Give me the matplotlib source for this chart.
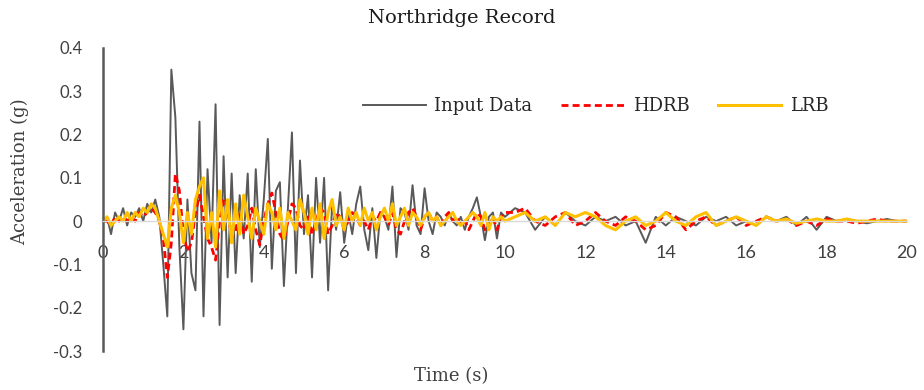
import numpy as np
import matplotlib
matplotlib.use("Agg")
import matplotlib.pyplot as plt

# sampling grid: 0.1 s up to 10 s, 0.25 s afterwards
t = np.concatenate([np.round(np.arange(0, 10.01, 0.1), 2), np.arange(10.25, 20.01, 0.25)])

input_data = [
    0.0, 0.01, -0.03, 0.02, 0.0, 0.03, -0.01, 0.02, 0.01, 0.03,
    0.0, 0.04, 0.02, 0.05, 0.01, -0.10, -0.22, 0.35, 0.24, -0.06,
    -0.25, 0.05, -0.12, -0.16, 0.23, -0.22, 0.12, -0.05, 0.27, -0.24,
    0.15, -0.13, 0.11, -0.12, 0.06, -0.04, 0.11, -0.14, 0.12, -0.06,
    0.05, 0.19, -0.11, 0.07, 0.09, -0.15, 0.03, 0.205, -0.12, 0.14,
    -0.03, 0.06, -0.13, 0.10, -0.05, 0.10, -0.16, 0.04, -0.02, 0.067,
    -0.05, 0.02, -0.03, 0.04, 0.08, -0.02, -0.067, 0.03, -0.085, 0.02,
    0.01, -0.02, 0.08, -0.083, 0.03, 0.02, -0.02, 0.083, -0.01, -0.03,
    0.076, 0.0, -0.03, 0.02, 0.01, -0.01, 0.02, 0.0, -0.01, 0.01,
    -0.02, 0.01, 0.03, 0.055, 0.01, -0.044, 0.01, 0.02, -0.04, 0.02,
    0.01,
    0.03, 0.02, -0.02, 0.01, -0.01, 0.02, 0.0, -0.01, 0.01, 0.0,
    0.01, -0.01, 0.0, -0.05, 0.01, -0.01, 0.01, 0.0, -0.01, 0.01,
    0.0, 0.01, -0.01, 0.0, -0.01, 0.01, 0.0, 0.01, -0.01, 0.01,
    -0.02, 0.01, 0.0, 0.005, 0.0, -0.005, 0.0, 0.005, 0.0, 0.0,
]

hdrb = [
    0.0, 0.0, -0.01, 0.01, 0.0, 0.01, 0.0, 0.01, 0.0, 0.02,
    0.01, 0.02, 0.03, 0.02, 0.0, -0.04, -0.13, -0.05, 0.11, 0.07,
    -0.03, -0.07, -0.05, 0.02, 0.06, 0.01, -0.04, -0.06, -0.09, 0.0,
    0.05, 0.03, -0.04, -0.02, 0.02, -0.03, -0.01, 0.03, -0.02, -0.055,
    0.0, 0.04, 0.065, 0.02, -0.03, -0.045, 0.0, 0.04, 0.03, -0.01,
    -0.02, 0.01, -0.03, 0.0, 0.03, 0.02, -0.03, -0.01, 0.02, 0.01,
    -0.02, 0.0, 0.02, 0.01, -0.01, 0.0, -0.02, 0.01, 0.0, 0.02,
    0.01, -0.01, 0.02, -0.02, -0.03, 0.0, 0.02, 0.03, 0.01, -0.02,
    0.01, 0.02, 0.0, 0.01, -0.01, 0.01, 0.02, 0.0, 0.01, -0.01,
    0.0, -0.02, 0.0, 0.02, 0.01, -0.02, -0.01, 0.01, -0.02, 0.01,
    0.02,
    0.02, 0.03, 0.0, -0.01, 0.01, 0.02, -0.01, 0.0, 0.02, 0.0,
    -0.01, 0.01, 0.0, -0.02, -0.01, 0.02, 0.01, -0.02, 0.0, 0.01,
    -0.01, 0.0, 0.01, -0.01, 0.0, 0.01, 0.0, 0.005, -0.01, 0.0,
    -0.01, 0.005, 0.0, 0.0, -0.005, 0.0, 0.005, 0.0, 0.0, 0.0,
]

lrb = [
    0.0, 0.01, -0.01, 0.0, 0.01, 0.0, 0.02, 0.0, 0.02, 0.01,
    0.03, 0.02, 0.04, 0.03, 0.0, -0.03, -0.06, 0.03, 0.06, 0.02,
    -0.05, 0.02, -0.03, 0.05, 0.08, 0.10, -0.04, 0.02, -0.06, 0.07,
    -0.02, 0.05, -0.05, 0.04, -0.03, 0.06, 0.01, -0.04, 0.03, 0.0,
    -0.03, 0.04, 0.02, -0.02, 0.03, -0.04, 0.02, 0.0, -0.02, 0.05,
    0.02, -0.03, 0.03, -0.02, 0.04, -0.04, 0.02, 0.05, -0.01, 0.01,
    -0.02, 0.03, 0.0, 0.02, -0.01, 0.03, 0.0, 0.02, -0.02, 0.01,
    0.03, 0.0, 0.04, -0.01, 0.01, 0.03, -0.01, 0.02, 0.01, -0.01,
    0.01, 0.02, 0.0, 0.01, -0.01, 0.0, 0.01, 0.02, 0.0, -0.01,
    0.0, 0.01, 0.02, 0.01, -0.01, 0.02, -0.02, 0.01, 0.0, 0.01,
    0.0,
    0.01, 0.02, 0.0, 0.01, -0.01, 0.02, 0.01, 0.02, 0.01, -0.01,
    -0.02, 0.0, 0.01, -0.01, 0.0, 0.02, 0.0, -0.01, 0.01, 0.02,
    -0.01, 0.0, 0.01, 0.0, -0.01, 0.01, 0.0, 0.005, -0.005, 0.0,
    0.005, 0.0, 0.0, 0.005, 0.0, 0.0, 0.0, 0.0, 0.0, 0.0,
]

x_ticks = list(range(0, 21, 2))
y_ticks = [-0.3, -0.2, -0.1, 0, 0.1, 0.2, 0.3, 0.4]
y_tick_labels = ["-0.3", "-0.2", "-0.1", "0", "0.1", "0.2", "0.3", "0.4"]

serif = "DejaVu Serif"
sans = "Lato"

fig = plt.figure(figsize=(9.24, 3.9), dpi=100)
ax = fig.add_axes([103 / 924, 1 - 351 / 390, 804 / 924, 303 / 390])

ax.plot(t, input_data, color="#595959", lw=1.4, label="Input Data")
ax.plot(t, hdrb, color="#ff0000", lw=2, ls=(0, (2.5, 1.5)), label="HDRB")
ax.plot(t, lrb, color="#ffc000", lw=2.2, label="LRB")

ax.set_xlim(0, 20)
ax.set_ylim(-0.3, 0.4)
ax.set_xticks(x_ticks)
ax.set_yticks(y_ticks)
ax.set_yticklabels(y_tick_labels)

for s in ["top", "right"]:
    ax.spines[s].set_visible(False)
ax.spines["bottom"].set_position(("data", 0))
ax.spines["bottom"].set_color("#d9d9d9")
ax.spines["bottom"].set_linewidth(1)
ax.spines["left"].set_color("#595959")
ax.spines["left"].set_linewidth(1.8)

ax.tick_params(axis="x", length=0, pad=17, labelsize=13, labelcolor="#404040")
ax.tick_params(axis="y", length=0, pad=15, labelsize=12, labelcolor="#404040")
for lab in ax.get_xticklabels() + ax.get_yticklabels():
    lab.set_family(sans)

fig.text(462 / 924, 1 - 18 / 390, "Northridge Record", ha="center", va="center",
         family=serif, fontsize=14, color="#1a1a1a")
fig.text(451 / 924, 1 - 376 / 390, "Time (s)", ha="center", va="center",
         family=serif, fontsize=13, color="#404040")
fig.text(20 / 924, 1 - 172 / 390, "Acceleration (g)", ha="center", va="center",
         rotation=90, family=serif, fontsize=13, color="#404040")

leg = ax.legend(loc="center left", bbox_to_anchor=(363 / 924, 1 - 106 / 390),
                bbox_transform=fig.transFigure, ncol=3, frameon=False,
                borderpad=0, borderaxespad=0, handlelength=3.5,
                handletextpad=0.45, columnspacing=1.6,
                prop={"family": serif, "size": 13})
for txt in leg.get_texts():
    txt.set_color("#262626")

fig.savefig("out.png", dpi=100)
